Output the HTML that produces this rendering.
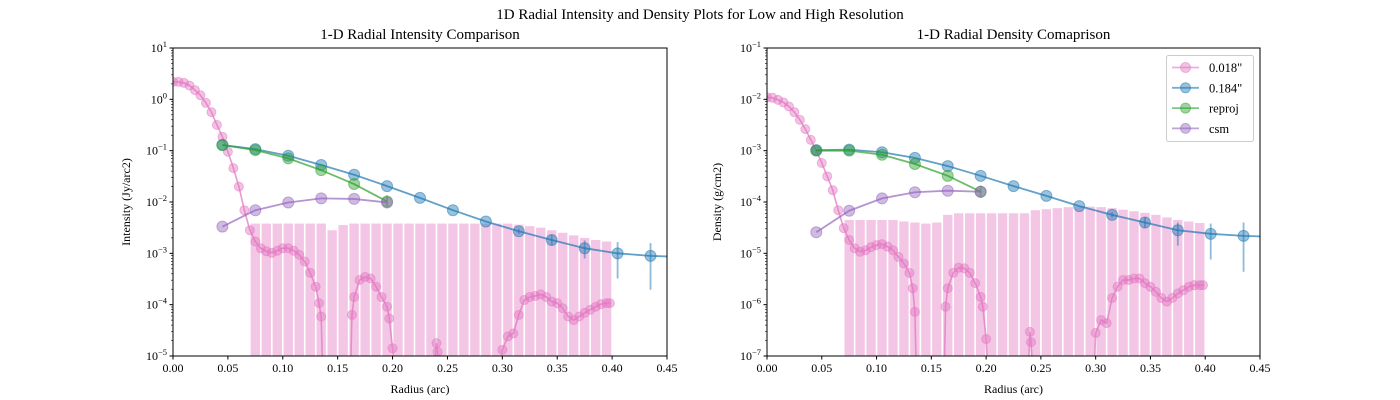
<!DOCTYPE html>
<html><head><meta charset="utf-8"><style>
html,body{margin:0;padding:0;background:#fff}
svg{display:block;font-family:"Liberation Serif",serif}
</style></head><body>
<svg id="fig" width="1400" height="400" viewBox="0 0 1400 400">
<text x="700" y="19" text-anchor="middle" font-size="15">1D Radial Intensity and Density Plots for Low and High Resolution</text>
</svg>
<script>
// ---- data (log10 values) ----
const pinkX = [0,.005,.01,.015,.02,.025,.03,.035,.04,.045,.05,.055,.06,.065,.07,.075,.08,.085,.09,.095,.10,.105,.11,.115,.12,.125,.13,.133,.135,.136,.162,.163,.165,.17,.175,.18,.185,.19,.195,.197,.2,.201,.239,.24,.241,.242,.299,.30,.305,.31,.315,.32,.325,.33,.335,.34,.345,.35,.355,.36,.365,.37,.375,.38,.385,.39,.395,.398];
const pinkLogI = [.34,.34,.32,.27,.18,.08,-.07,-.25,-.50,-.73,-1.02,-1.34,-1.70,-2.16,-2.55,-2.77,-2.90,-2.96,-2.99,-2.95,-2.90,-2.90,-2.95,-3.03,-3.16,-3.38,-3.65,-3.97,-4.23,null,null,-4.20,-3.85,-3.52,-3.46,-3.49,-3.65,-3.85,-4.04,-4.27,-4.85,null,null,-4.75,-4.92,null,null,-4.88,-4.62,-4.56,-4.20,-3.91,-3.85,-3.83,-3.80,-3.85,-3.94,-3.97,-4.07,-4.23,-4.30,-4.23,-4.16,-4.10,-4.04,-3.99,-3.97,-3.97];
const pinkLogD = [-1.96,-1.97,-2.01,-2.06,-2.14,-2.25,-2.40,-2.58,-2.79,-3.0,-3.24,-3.50,-3.77,-4.16,-4.51,-4.74,-4.90,-4.97,-4.94,-4.88,-4.84,-4.82,-4.87,-4.94,-5.07,-5.20,-5.38,-5.68,-6.14,null,null,-6.04,-5.68,-5.38,-5.28,-5.29,-5.38,-5.58,-5.85,-6.04,-6.67,null,null,-6.53,-6.73,null,null,-6.55,-6.30,-6.36,-5.87,-5.65,-5.52,-5.52,-5.49,-5.49,-5.58,-5.65,-5.75,-5.87,-5.94,-5.87,-5.78,-5.72,-5.65,-5.62,-5.62,-5.62];
const errX = [.075,.085,.095,.105,.115,.125,.135,.145,.155,.165,.175,.185,.195,.205,.215,.225,.235,.245,.255,.265,.275,.285,.295,.305,.315,.325,.335,.345,.355,.365,.375,.385,.395];
const errTopI = [-2.42,-2.42,-2.42,-2.42,-2.42,-2.42,-2.42,-2.55,-2.45,-2.42,-2.42,-2.42,-2.42,-2.42,-2.42,-2.42,-2.42,-2.42,-2.42,-2.42,-2.42,-2.42,-2.42,-2.42,-2.44,-2.47,-2.50,-2.55,-2.60,-2.65,-2.70,-2.74,-2.77];
const errTopD = [-4.35,-4.35,-4.35,-4.35,-4.35,-4.38,-4.40,-4.42,-4.40,-4.25,-4.22,-4.22,-4.22,-4.22,-4.22,-4.22,-4.22,-4.16,-4.14,-4.12,-4.10,-4.09,-4.09,-4.10,-4.12,-4.15,-4.18,-4.21,-4.25,-4.30,-4.35,-4.38,-4.41];
const blueX = [.045,.075,.105,.135,.165,.195,.225,.255,.285,.315,.345,.375,.405,.435,.45];
const blueLogI = [-0.89,-0.97,-1.10,-1.28,-1.47,-1.69,-1.92,-2.16,-2.38,-2.57,-2.74,-2.90,-3.00,-3.05,-3.06];
const blueLogD = [-2.99,-2.98,-3.03,-3.14,-3.30,-3.49,-3.69,-3.88,-4.08,-4.25,-4.40,-4.55,-4.62,-4.66,-4.67];
const blueErrUpI = [0,0,0,0,0,0,0,0,0,.05,.1,.15,.22,.25,0];
const blueErrDnI = [0,0,0,0,0,0,0,0,0,.05,.1,.2,.49,.66,0];
const blueErrUpD = [0,0,0,0,0,0,0,0,0,.05,.1,.15,.2,.26,0];
const blueErrDnD = [0,0,0,0,0,0,0,0,0,.05,.1,.3,.5,.7,0];
const sixX = [.045,.075,.105,.135,.165,.195];
const greenLogI = [-0.89,-0.99,-1.15,-1.38,-1.65,-1.99];
const greenLogD = [-3.0,-3.0,-3.08,-3.26,-3.49,-3.80];
const purpleLogI = [-2.48,-2.16,-2.01,-1.93,-1.94,-2.01];
const purpleLogD = [-4.59,-4.17,-3.93,-3.81,-3.78,-3.80];
const xTicks = ["0.00","0.05","0.10","0.15","0.20","0.25","0.30","0.35","0.40","0.45"];

const NS="http://www.w3.org/2000/svg";
const svg=document.getElementById('fig');
function mk(tag,attrs,parent){const e=document.createElementNS(NS,tag);for(const k in attrs)e.setAttribute(k,attrs[k]);(parent||svg).appendChild(e);return e;}
const C={pink:'#e377c2',blue:'#1f77b4',green:'#2ca02c',purple:'#9467bd'};

function panel(o){
  const X=v=>o.x0+(v/0.45)*(o.x1-o.x0);
  const Y=l=>o.y0+(o.top-l)/(o.top-o.bot)*(o.y1-o.y0);
  const g=mk('g',{});
  
  
  const clipId='clip'+o.name;
  const cp=mk('clipPath',{id:clipId},g);mk('rect',{x:o.x0,y:o.y0,width:o.x1-o.x0,height:o.y1-o.y0},cp);
  const plot=mk('g',{'clip-path':'url(#'+clipId+')'},g);
  // pink error bars
  const w=X(0.01)-X(0);
  errX.forEach((x,i)=>{
    const r=mk('rect',{x:X(x)-w/2+0.8,y:Y(o.errTop[i]),width:w-1.6,height:o.y1-Y(o.errTop[i]),fill:C.pink,'fill-opacity':0.42},plot);
    
    
  });
  // pink line
  let d='';let pen=false;
  pinkX.forEach((x,i)=>{
    const v=o.pink[i];const yy=v===null?o.y1+5:Y(v);
    d+=(i===0?'M':'L')+X(x).toFixed(2)+','+yy.toFixed(2);
  });
  const pl=mk('path',{d:d,fill:'none',stroke:C.pink,'stroke-width':1.6,'stroke-opacity':0.75},plot);
  
  
  pinkX.forEach((x,i)=>{
    if(o.pink[i]===null)return;
    const c=mk('circle',{cx:X(x),cy:Y(o.pink[i]),r:4.5,fill:C.pink,'fill-opacity':0.45,stroke:C.pink,'stroke-opacity':0.5},plot);
    
    
  });
  function series(xs,ys,col,nm,eu,ed){
    const p=mk('path',{d:xs.map((x,i)=>(i?'L':'M')+X(x)+','+Y(ys[i])).join(''),fill:'none',stroke:col,'stroke-width':1.8,'stroke-opacity':0.7},plot);
    
    
    xs.forEach((x,i)=>{
      if(x>0.44)return;
      if(eu&&(eu[i]||ed[i])){
        const l=mk('line',{x1:X(x),x2:X(x),y1:Y(ys[i]+eu[i]),y2:Y(ys[i]-ed[i]),stroke:col,'stroke-width':1.8,'stroke-opacity':0.5},plot);
        
        
      }
      const c=mk('circle',{cx:X(x),cy:Y(ys[i]),r:5.5,fill:col,'fill-opacity':0.45,stroke:col,'stroke-opacity':0.5},plot);
      
      
    });
  }
  series(blueX,o.blue,C.blue,'blue',o.bu,o.bd);
  series(sixX,o.green,C.green,'green',[0,0,0,0,0,.12],[0,0,0,0,0,.12]);
  series(sixX,o.purple,C.purple,'purple');
  // axes frame
  const fr=mk('rect',{x:o.x0,y:o.y0,width:o.x1-o.x0,height:o.y1-o.y0,fill:'none',stroke:'#000','stroke-width':1},g);
  
  
  // x ticks
  xTicks.forEach((t,i)=>{
    const x=X(i*0.05);
    mk('line',{x1:x,x2:x,y1:o.y1,y2:o.y1+3.5,stroke:'#000'},g);
    const tx=mk('text',{x:x,y:o.y1+16,'text-anchor':'middle','font-size':12},g);tx.textContent=t;
    
    
  });
  // y ticks
  for(let e=o.bot;e<=o.top;e++){
    const y=Y(e);
    mk('line',{x1:o.x0-3.5,x2:o.x0,y1:y,y2:y,stroke:'#000'},g);
    const tx=mk('text',{x:o.x0-6,y:y+4,'text-anchor':'end','font-size':12},g);
    
    
    const a=mk('tspan',{},tx);a.textContent='10';
    const b=mk('tspan',{dy:-5,'font-size':8.5},tx);b.textContent=(e<0?'\u2212':'')+Math.abs(e);
    if(e<o.top)for(let k=2;k<10;k++){const yy=Y(e+Math.log10(k));mk('line',{x1:o.x0-2,x2:o.x0,y1:yy,y2:yy,stroke:'#000','stroke-width':0.6},g);}
  }
  const tt=mk('text',{x:(o.x0+o.x1)/2,y:o.y0-9,'text-anchor':'middle','font-size':15},g);tt.textContent=o.title;
  
  
  const xl=mk('text',{x:(o.x0+o.x1)/2,y:o.y1+37,'text-anchor':'middle','font-size':12},g);xl.textContent='Radius (arc)';
  
  
  const yc=(o.y0+o.y1)/2;
  const yl=mk('text',{x:o.ylx,y:yc,'text-anchor':'middle','font-size':12,transform:'rotate(-90 '+o.ylx+' '+yc+')'},g);yl.textContent=o.ylabel;
  
  
}
panel({name:'intensity-panel',x0:173,x1:667,y0:48,y1:356,top:1,bot:-5,pink:pinkLogI,errTop:errTopI,blue:blueLogI,bu:blueErrUpI,bd:blueErrDnI,green:greenLogI,purple:purpleLogI,title:'1-D Radial Intensity Comparison',ylabel:'Intensity (Jy/arc2)',ylx:130});
panel({name:'density-panel',x0:767,x1:1260,y0:48,y1:356,top:-1,bot:-7,pink:pinkLogD,errTop:errTopD,blue:blueLogD,bu:blueErrUpD,bd:blueErrDnD,green:greenLogD,purple:purpleLogD,title:'1-D Radial Density Comaprison',ylabel:'Density (g/cm2)',ylx:721});
// legend
const lg=mk('g',{});


mk('rect',{x:1166.5,y:55.5,width:87,height:86,rx:2,fill:'#fff','fill-opacity':0.8,stroke:'#ccc'},lg);
const legLabels=['0.018"','0.184"','reproj','csm'];
const legCols=[C.pink,C.blue,C.green,C.purple];
legLabels.forEach((t,i)=>{
  const y=67.5+i*20.3;
  const e=mk('g',{},lg);
  
  
  mk('line',{x1:1172,x2:1199,y1:y,y2:y,stroke:legCols[i],'stroke-width':1.8,'stroke-opacity':0.6},e);
  mk('circle',{cx:1185.5,cy:y,r:5,fill:legCols[i],'fill-opacity':0.45,stroke:legCols[i],'stroke-opacity':0.5},e);
  const tx=mk('text',{x:1209,y:y+4.5,'font-size':12.5},e);tx.textContent=t;
});
</script>
</body></html>
